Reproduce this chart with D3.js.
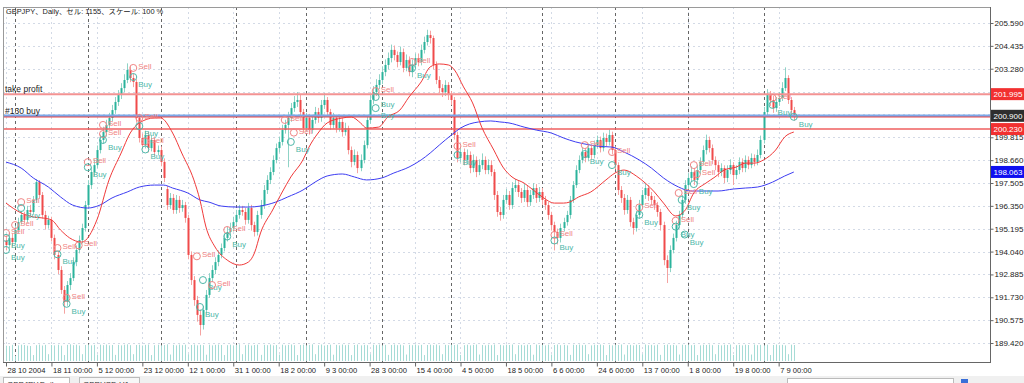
<!DOCTYPE html>
<html>
<head>
<meta charset="utf-8">
<script src="https://cdn.jsdelivr.net/npm/d3@7"></script>
<style>
  body { margin: 0; background: #fff; }
  svg { display: block; }
  text { font-family: "Liberation Sans", Arial, "Noto Sans CJK JP", sans-serif; }
</style>
</head>
<body>
<svg id="chart" width="1024" height="383"></svg>
<script>
// daily GBPJPY bars (bar 0 = 28 10 2004)
const opens = [
  194.60,194.37,194.73,194.52,195.13,195.53,195.89,195.64,196.14,196.04,
  196.65,197.55,196.90,195.89,195.38,195.64,194.73,193.87,193.11,192.10,
  191.49,192.35,192.70,193.51,194.12,194.62,195.23,196.39,197.40,198.06,
  198.41,199.17,199.68,200.08,200.44,200.79,201.19,201.60,201.95,202.30,
  202.71,203.22,202.81,202.61,200.79,199.78,199.42,199.93,199.27,199.68,
  199.07,199.17,198.57,197.20,196.39,196.75,196.14,196.65,196.24,196.39,
  195.74,193.87,192.60,191.59,190.84,190.33,191.09,191.85,192.70,193.11,
  193.51,193.87,194.22,194.73,195.03,195.23,195.53,195.89,196.14,196.04,
  195.64,196.24,195.38,195.03,195.89,196.39,197.15,197.66,198.06,198.67,
  199.27,199.58,200.18,200.44,200.79,201.29,201.60,201.70,201.09,200.28,
  200.79,200.18,200.69,201.09,200.79,201.45,201.70,201.09,200.44,200.79,
  200.28,200.59,200.08,200.28,199.17,198.57,198.92,198.26,198.67,199.42,
  200.69,201.70,202.10,202.46,202.71,203.11,203.47,203.82,204.23,203.97,
  203.62,204.12,203.32,203.72,203.11,203.47,203.82,203.62,204.23,204.63,
  204.98,204.83,203.47,202.71,202.30,202.10,202.46,201.95,201.70,199.93,
  198.77,199.07,198.67,198.92,198.26,198.67,198.06,198.41,198.67,198.16,
  198.41,198.06,196.90,196.04,195.89,196.65,196.90,196.39,197.25,197.40,
  197.05,196.75,197.15,196.54,196.90,197.25,196.75,197.05,196.65,196.39,
  195.89,195.38,195.03,194.73,195.23,195.53,195.89,196.65,197.40,198.16,
  198.67,199.07,198.77,199.27,198.92,199.42,199.68,199.27,199.78,199.58,
  199.93,199.17,198.41,197.15,196.75,196.14,196.65,195.53,195.23,195.89,
  196.39,196.90,197.25,196.85,196.65,196.39,196.04,195.38,193.61,193.21,
  194.12,194.73,195.38,195.89,196.65,197.40,197.76,198.06,197.66,198.16,
  198.57,199.17,199.68,199.27,198.67,198.41,198.06,198.26,197.76,198.16,
  198.41,197.91,198.16,198.57,198.26,198.67,198.41,198.77,198.57,198.92,
  199.68,201.09,201.95,201.70,201.29,201.60,201.80,202.30,202.81,201.70,
  201.19
];
const highs = [
  194.85,195.00,194.95,195.35,195.75,196.10,196.05,196.35,196.40,196.85,
  197.70,197.65,197.05,196.10,195.85,195.80,194.90,194.05,193.30,192.30,
  192.55,192.95,193.75,194.35,194.85,195.45,196.60,197.65,198.30,198.70,
  199.40,199.95,200.35,200.70,201.05,201.45,201.85,202.20,202.55,203.00,
  203.55,203.40,203.05,202.75,201.00,200.00,200.15,200.10,199.90,199.85,
  199.40,199.35,198.75,197.35,197.00,196.95,196.90,196.85,196.65,196.55,
  195.90,194.05,192.80,191.80,191.10,191.30,192.10,192.95,193.35,193.75,
  194.10,194.45,194.95,195.30,195.50,195.80,196.15,196.40,196.35,196.25,
  196.50,196.40,195.55,196.10,196.65,197.40,197.90,198.30,198.90,199.50,
  199.85,200.45,200.70,201.10,201.55,201.90,202.10,201.95,201.25,201.05,
  201.00,200.95,201.35,201.30,201.70,202.05,201.85,201.25,201.05,200.95,
  200.85,200.80,200.55,200.40,199.35,199.20,199.10,198.95,199.65,200.90,
  201.95,202.40,202.75,203.00,203.40,203.75,204.10,204.50,204.45,204.15,
  204.40,204.30,204.00,203.90,203.75,204.05,204.05,204.50,204.90,205.25,
  205.20,204.95,203.65,202.90,202.50,202.70,202.60,202.15,201.85,200.10,
  199.35,199.25,199.20,199.10,198.95,198.85,198.70,199.00,198.85,198.70,
  198.65,198.20,197.10,196.30,196.90,197.20,197.10,197.55,197.70,197.60,
  197.25,197.45,197.35,197.15,197.50,197.45,197.30,197.25,196.85,196.55,
  196.05,195.55,195.20,195.45,195.75,196.10,196.85,197.60,198.40,198.90,
  199.30,199.25,199.50,199.45,199.65,199.90,199.85,200.05,200.00,200.20,
  200.10,199.35,198.55,197.35,196.95,196.90,196.80,195.75,196.10,196.65,
  197.15,197.50,197.40,197.05,196.85,196.55,196.20,195.55,193.85,194.35,
  194.95,195.60,196.10,196.90,197.65,198.00,198.35,198.25,198.40,198.80,
  199.40,199.95,199.85,199.45,198.85,198.60,198.50,198.40,198.40,198.70,
  198.55,198.40,198.80,198.75,198.90,198.85,199.00,198.95,199.20,199.90,
  201.35,202.25,202.15,201.90,201.85,202.10,202.60,203.35,202.95,201.85,
  201.35
];
const lows = [
  194.10,194.20,194.30,194.40,194.95,195.40,195.45,195.50,195.85,195.90,
  196.50,196.70,195.70,195.15,195.20,194.55,193.65,192.90,191.90,190.90,
  191.30,192.10,192.55,193.30,193.95,194.45,195.05,196.20,197.20,197.85,
  198.25,199.00,199.50,199.85,200.25,200.60,201.00,201.40,201.75,202.10,
  202.55,202.60,202.35,200.55,199.55,199.20,199.25,199.05,199.10,198.85,
  198.90,198.35,197.55,196.15,196.20,195.95,195.95,196.00,196.05,195.50,
  193.65,192.35,191.30,190.50,189.80,190.10,190.90,191.70,192.50,192.90,
  193.30,193.70,194.05,194.55,194.85,195.05,195.35,195.70,195.85,195.40,
  195.45,195.10,194.80,194.85,195.70,196.20,196.95,197.45,197.90,198.50,
  199.05,199.40,200.00,198.30,200.60,201.10,201.35,200.90,200.05,200.10,
  199.95,200.00,200.50,200.55,200.60,201.25,200.85,200.20,200.25,200.05,
  200.10,199.85,199.90,198.95,198.30,198.40,198.00,198.10,198.50,199.25,
  200.50,201.50,201.90,202.25,202.50,202.90,203.25,203.60,203.70,203.35,
  203.45,203.10,203.15,202.90,202.85,203.30,203.40,203.45,204.05,204.45,
  204.55,203.25,202.50,202.05,201.85,201.90,201.70,201.45,199.70,198.55,
  198.55,198.40,198.45,198.00,198.05,197.80,197.90,198.20,197.95,197.95,
  197.85,196.65,195.80,195.60,195.70,196.45,196.15,196.20,197.05,196.80,
  196.50,196.55,196.30,196.35,196.70,196.50,196.55,196.40,196.15,195.65,
  195.10,194.10,194.40,194.50,195.05,195.35,195.70,196.50,197.25,198.00,
  198.50,198.55,198.60,198.70,198.75,199.25,199.05,199.10,199.35,199.40,
  198.95,198.20,196.90,196.50,195.90,195.95,195.30,194.90,195.05,195.70,
  196.20,196.70,196.60,196.40,196.15,195.80,195.10,193.35,192.45,193.00,
  193.95,194.55,195.20,195.70,196.45,197.20,197.55,197.40,197.45,197.95,
  198.40,198.95,199.05,198.45,198.15,197.80,197.85,197.50,197.55,197.95,
  197.40,197.70,197.95,198.05,198.05,198.20,198.25,198.35,198.40,198.75,
  199.50,200.90,201.40,201.05,201.10,201.40,201.65,202.15,201.50,200.95,
  200.65
];
const closes = [
  194.37,194.73,194.52,195.13,195.53,195.89,195.64,196.14,196.04,196.65,
  197.55,196.90,195.89,195.38,195.64,194.73,193.87,193.11,192.10,191.49,
  192.35,192.70,193.51,194.12,194.62,195.23,196.39,197.40,198.06,198.41,
  199.17,199.68,200.08,200.44,200.79,201.19,201.60,201.95,202.30,202.71,
  203.22,202.81,202.61,200.79,199.78,199.42,199.93,199.27,199.68,199.07,
  199.17,198.57,197.76,196.39,196.75,196.14,196.65,196.24,196.39,195.74,
  193.87,192.60,191.59,190.84,190.33,191.09,191.85,192.70,193.11,193.51,
  193.87,194.22,194.73,195.03,195.23,195.53,195.89,196.14,196.04,195.64,
  196.24,195.38,195.03,195.89,196.39,197.15,197.66,198.06,198.67,199.27,
  199.58,200.18,200.44,200.79,201.29,201.60,201.70,201.09,200.28,200.79,
  200.18,200.69,201.09,200.79,201.45,201.70,201.09,200.44,200.79,200.28,
  200.59,200.08,200.28,199.17,198.57,198.92,198.26,198.67,199.42,200.69,
  201.70,202.10,202.46,202.71,203.11,203.47,203.82,204.23,203.97,203.62,
  204.12,203.32,203.72,203.11,203.47,203.82,203.62,204.23,204.63,204.98,
  204.83,203.47,202.71,202.30,202.10,202.46,201.95,201.70,199.93,198.77,
  199.07,198.67,198.92,198.26,198.67,198.06,198.41,198.67,198.16,198.41,
  198.06,196.90,196.04,195.89,196.65,196.90,196.39,197.25,197.40,197.05,
  196.75,197.15,196.54,196.90,197.25,196.75,197.05,196.65,196.39,195.89,
  195.38,195.03,194.73,195.23,195.53,195.89,196.65,197.40,198.16,198.67,
  199.07,198.77,199.27,198.92,199.42,199.68,199.27,199.78,199.58,199.93,
  199.17,198.41,197.15,196.75,196.14,196.65,195.53,195.23,195.89,196.39,
  196.90,197.25,196.85,196.65,196.39,196.04,195.38,193.61,193.21,194.12,
  194.73,195.38,195.89,196.65,197.40,197.76,198.06,197.66,198.16,198.57,
  199.17,199.68,199.27,198.67,198.41,198.06,198.26,197.76,198.16,198.41,
  197.91,198.16,198.57,198.26,198.67,198.41,198.77,198.57,198.92,199.68,
  201.09,201.95,201.70,201.29,201.60,201.80,202.30,202.81,201.70,201.19,
  200.90
];
const volumes = [
  90,88,95,30,92,96,94,90,88,35,93,97,91,95,40,
  94,92,96,90,35,95,98,93,96,91,40,94,97,92,95,
  38,96,93,97,92,94,36,95,92,96,98,93,40,94,96,
  91,95,97,35,93,96,92,94,98,38,95,92,97,93,96,
  40,94,97,92,95,93,37,96,92,95,97,94,35,93,96,
  92,95,98,40,93,97,91,94,96,36,95,93,97,92,94,
  38,96,92,95,97,93,35,94,96,92,95,98,40,93,97,
  91,94,96,37,95,92,97,93,96,35,94,97,92,95,93,
  40,96,93,97,92,95,36,94,97,93,96,92,38,95,93,
  97,92,95,35,94,96,93,97,92,40,95,93,96,94,97,
  36,93,96,92,95,97,38,94,92,96,93,97,35,95,92,
  96,94,97,40,93,95,92,96,94,37,97,93,95,92,96,
  38,94,97,93,95,92,36,96,94,97,93,95,40,92,96,
  94,97,93,35,95,92,96,94,97,38,93,95,92,96,94,
  40,97,93,95,92,96,36,94,97,93,95,92,38,96,94,
  97,93,95,35,92,96,94,97,93,40,95,92,96,94,97,
  36,93,95,92,96,94,38,97,93,95,92,96,35,94,97,
  93,95,92,40,96,94
];

// moving averages: [bar, price]
const fastMA = [
  [0,196.49],[5,195.99],[9,195.79],[12,195.74],[15,195.64],[18,195.13],[21,194.73],[25,194.52],
  [30,195.64],[34,197.66],[38,199.02],[41,200.03],[44,200.54],[49,200.79],[51,200.79],[55,200.03],
  [58,199.02],[62,197.66],[64,196.65],[66,195.28],[69,194.27],[73,193.61],[77,193.36],[80,193.51],
  [82,193.97],[84,194.98],[88,196.14],[91,197.00],[94,197.81],[98,198.67],[100,199.32],[103,200.03],
  [106,200.54],[111,200.79],[114,200.84],[117,200.54],[119,200.28],[123,200.33],[126,200.84],
  [130,201.19],[133,201.85],[137,202.61],[140,203.37],[143,203.52],[146,203.47],[148,203.22],
  [151,202.36],[154,201.55],[157,200.33],[161,199.17],[164,198.31],[167,197.81],[171,197.50],
  [174,197.15],[177,196.80],[181,196.49],[184,196.49],[186,196.54],[189,196.80],[193,197.05],
  [198,197.66],[201,198.01],[204,198.16],[208,197.86],[211,197.50],[214,197.05],[217,196.49],
  [221,195.84],[224,196.10],[227,197.00],[231,197.50],[234,197.81],[237,198.16],[241,198.31],
  [244,198.51],[247,198.51],[250,198.67],[254,199.17],[257,199.83],[260,200.08]
];
const slowMA = [
  [0,198.56],[5,198.26],[9,197.76],[14,197.30],[18,196.80],[22,196.39],[27,196.24],[31,196.39],
  [35,196.75],[40,197.05],[44,197.30],[49,197.40],[52,197.40],[55,197.25],[60,197.00],[64,196.65],
  [67,196.54],[71,196.34],[76,196.29],[80,196.29],[84,196.34],[89,196.54],[93,196.80],[98,197.15],
  [102,197.55],[106,197.86],[111,197.96],[115,197.81],[119,197.66],[124,197.76],[128,198.01],
  [133,198.31],[137,198.67],[140,199.02],[143,199.42],[147,199.93],[150,200.28],[153,200.49],
  [156,200.59],[160,200.64],[163,200.59],[166,200.54],[171,200.33],[175,200.18],[180,200.03],
  [184,199.78],[188,199.58],[193,199.42],[195,199.37],[200,199.32],[204,199.07],[209,198.67],
  [213,198.26],[217,197.76],[222,197.30],[226,197.10],[231,197.10],[235,197.10],[240,197.20],
  [244,197.25],[248,197.30],[253,197.55],[257,197.86],[260,198.06]
];

// trade arrows: [bar, price, side]
const trades = [
  [5,196.54,'Sell'],[5,196.24,'Buy'],[3,195.38,'Sell'],[0,194.98,'Sell'],[0,194.73,'Buy'],[0,194.12,'Buy'],
  [17,194.22,'Sell'],[17,193.90,'Buy'],[24,194.35,'Sell'],[20,191.70,'Sell'],[20,191.40,'Buy'],
  [27,198.56,'Sell'],[27,198.30,'Buy'],[32,200.44,'Sell'],[32,199.98,'Sell'],[32,199.68,'Buy'],
  [42,203.32,'Sell'],[42,202.86,'Buy'],[44,200.79,'Sell'],[44,200.38,'Buy'],[46,199.60,'Sell'],[46,199.20,'Buy'],
  [63,193.80,'Sell'],[65,192.60,'Buy'],[68,192.35,'Sell'],[64,191.24,'Buy'],
  [73,195.13,'Sell'],[73,194.80,'Buy'],[92,200.69,'Sell'],[95,200.05,'Sell'],[94,199.58,'Buy'],
  [122,202.15,'Sell'],[122,201.85,'Buy'],[122,201.29,'Buy'],[134,203.62,'Sell'],[134,203.30,'Buy'],
  [149,199.37,'Sell'],[149,198.92,'Buy'],[181,194.88,'Sell'],[181,194.60,'Buy'],
  [191,199.42,'Sell'],[191,198.97,'Buy'],[200,199.07,'Sell'],[200,198.41,'Buy'],
  [209,196.27,'Sell'],[209,195.90,'Buy'],[222,197.00,'Sell'],[223,196.65,'Buy'],
  [221,195.60,'Sell'],[221,195.30,'Buy'],[224,194.90,'Buy'],
  [227,198.41,'Sell'],[228,197.95,'Sell'],[227,197.45,'Buy'],[253,201.80,'Sell'],[253,201.45,'Buy'],
  [260,200.85,'Buy']
];

const tickBars = [0,15,30,45,60,75,90,105,120,135,150,165,180,195,210,225,240,255];
const tickLabels = ['28 10 2004','18 11 00:00','5 12 00:00','23 12 00:00','12 1 00:00','31 1 00:00',
  '18 2 00:00','9 3 00:00','28 3 00:00','15 4 00:00','4 5 00:00','18 5 00:00','6 6 00:00',
  '24 6 00:00','13 7 00:00','1 8 00:00','19 8 00:00','7 9 00:00'];
const monthBars = [3,27,51,76,99,124,147,177,201,225,250];
const priceTicks = [205.590,204.435,203.280,202.125,200.970,199.815,198.660,197.505,
  196.350,195.195,194.040,192.885,191.730,190.575,189.420];

const takeProfit = 201.995;
const orderPrice = 200.840;
const bidPrice = 200.900;
const stopLoss = 200.230;
const slowLast = 198.063;

// ---- layout
const svg = d3.select('#chart');
const frame = { left: 3, top: 7, right: 990, bottom: 362 };

const x = d3.scaleLinear().domain([0, 260]).range([6, 793.8]);
const y = d3.scaleLinear().domain([189.42, 205.59]).range([343, 23]);
const yVol = d3.scaleLinear().domain([0, 100]).range([361, 344]);

svg.append('defs').append('clipPath').attr('id', 'plotclip')
  .append('rect')
  .attr('x', frame.left).attr('y', frame.top)
  .attr('width', frame.right - frame.left).attr('height', frame.bottom - frame.top);

const plot = svg.append('g').attr('clip-path', 'url(#plotclip)');

// grid
plot.selectAll('line.hgrid').data(priceTicks).join('line')
  .attr('class', 'hgrid')
  .attr('x1', frame.left).attr('x2', frame.right)
  .attr('y1', d => Math.round(y(d)) + 0.5).attr('y2', d => Math.round(y(d)) + 0.5)
  .attr('stroke', '#d3dae6').attr('stroke-dasharray', '2,3');

plot.selectAll('line.vgrid').data(tickBars).join('line')
  .attr('class', 'vgrid')
  .attr('x1', d => Math.round(x(d)) + 0.5).attr('x2', d => Math.round(x(d)) + 0.5)
  .attr('y1', frame.top).attr('y2', frame.bottom)
  .attr('stroke', '#d3dae6').attr('stroke-dasharray', '2,3');

plot.selectAll('line.sep').data(monthBars).join('line')
  .attr('class', 'sep')
  .attr('x1', d => Math.round(x(d)) + 0.5).attr('x2', d => Math.round(x(d)) + 0.5)
  .attr('y1', frame.top).attr('y2', frame.bottom)
  .attr('stroke', '#666').attr('stroke-dasharray', '3,3');

// volumes
plot.selectAll('line.vol').data(volumes).join('line')
  .attr('class', 'vol')
  .attr('x1', (d, i) => Math.round(x(i)) + 0.5).attr('x2', (d, i) => Math.round(x(i)) + 0.5)
  .attr('y1', yVol(0)).attr('y2', d => yVol(d))
  .attr('stroke', '#a6dcd6');

// candles
const bars = d3.range(closes.length);
const isUp = i => closes[i] >= opens[i];

plot.selectAll('line.wick').data(bars).join('line')
  .attr('class', 'wick')
  .attr('x1', i => Math.round(x(i)) + 0.5).attr('x2', i => Math.round(x(i)) + 0.5)
  .attr('y1', i => y(highs[i])).attr('y2', i => y(lows[i]))
  .attr('stroke', i => isUp(i) ? '#8fd3c6' : '#f5a3a1');

plot.selectAll('rect.body').data(bars).join('rect')
  .attr('class', 'body')
  .attr('x', i => Math.round(x(i)) - 0.5)
  .attr('width', 2)
  .attr('y', i => y(Math.max(opens[i], closes[i])))
  .attr('height', i => Math.max(1, Math.abs(y(opens[i]) - y(closes[i]))))
  .attr('fill', i => isUp(i) ? '#2bb39c' : '#f04b4b');

// order levels
const level = (price, color, width) => plot.append('line')
  .attr('x1', frame.left).attr('x2', frame.right)
  .attr('y1', y(price)).attr('y2', y(price))
  .attr('stroke', color).attr('stroke-width', width);

level(takeProfit, '#f39393', 2);
level(bidPrice, '#7ba8ea', 2.5);
level(orderPrice, '#ea4545', 1.2);
level(stopLoss, '#ef5f5f', 1.5);

svg.append('text').attr('x', 5).attr('y', 92).attr('font-size', 8.5).attr('fill', '#222').text('take profit');
svg.append('text').attr('x', 5).attr('y', 114).attr('font-size', 8.5).attr('fill', '#222').text('#130 buy');

// moving averages
const maLine = d3.line().x(d => x(d[0])).y(d => y(d[1])).curve(d3.curveMonotoneX);
plot.append('path').datum(slowMA).attr('d', maLine)
  .attr('fill', 'none').attr('stroke', '#3d3df2').attr('stroke-width', 1);
plot.append('path').datum(fastMA).attr('d', maLine)
  .attr('fill', 'none').attr('stroke', '#f03a3a').attr('stroke-width', 1);

// trade markers
const sideColor = { Sell: '#f08484', Buy: '#4db7a8' };
const mk = plot.selectAll('g.trade').data(trades).join('g')
  .attr('class', 'trade')
  .attr('transform', d => `translate(${x(d[0])},${y(d[1])})`);
mk.append('circle').attr('r', 3.5)
  .attr('fill', 'none').attr('stroke', d => sideColor[d[2]]).attr('stroke-width', 1);
mk.append('text')
  .attr('x', 5).attr('y', d => d[2] === 'Buy' ? 10 : 1)
  .attr('font-size', 8).attr('fill', d => sideColor[d[2]])
  .text(d => d[2]);

// frame
svg.append('rect')
  .attr('x', frame.left + 0.5).attr('y', frame.top + 0.5)
  .attr('width', frame.right - frame.left).attr('height', frame.bottom - frame.top)
  .attr('fill', 'none').attr('stroke', '#9a9a9a');
svg.append('line')
  .attr('x1', frame.right + 0.5).attr('x2', frame.right + 0.5)
  .attr('y1', frame.top).attr('y2', frame.bottom + 1)
  .attr('stroke', '#666');
svg.append('line')
  .attr('x1', frame.left).attr('x2', frame.right + 1)
  .attr('y1', frame.bottom + 0.5).attr('y2', frame.bottom + 0.5)
  .attr('stroke', '#666');

// axes
const yAxis = svg.append('g')
  .attr('transform', `translate(${frame.right + 0.5},0)`)
  .call(d3.axisRight(y).tickValues(priceTicks).tickFormat(d3.format('.3f')).tickSize(3).tickPadding(1));
yAxis.select('.domain').remove();
yAxis.selectAll('text').attr('font-size', 8).attr('fill', '#222').attr('font-family', null);
yAxis.selectAll('line').attr('stroke', '#666');

const xAxis = svg.append('g')
  .attr('transform', `translate(0,${frame.bottom + 0.5})`)
  .call(d3.axisBottom(x).tickValues(tickBars).tickFormat((d, i) => tickLabels[i]).tickSize(4).tickPadding(1));
xAxis.select('.domain').remove();
xAxis.selectAll('text').attr('font-size', 7.6).attr('fill', '#222').attr('font-family', null)
  .attr('text-anchor', 'start').attr('x', 1);
xAxis.selectAll('line').attr('stroke', '#666');

// price boxes on the right scale
const tag = (price, bg) => {
  const g = svg.append('g').attr('transform', `translate(${frame.right + 1},${y(price)})`);
  g.append('rect').attr('x', 0).attr('y', -6).attr('width', 34).attr('height', 12).attr('fill', bg);
  g.append('text').attr('x', 2.5).attr('y', 3).attr('font-size', 8).attr('fill', '#fff')
    .text(d3.format('.3f')(price));
};
tag(takeProfit, '#f23030');
tag(bidPrice, '#2e2e2e');
tag(stopLoss, '#f23030');
tag(slowLast, '#1010f0');

// title
svg.append('text').attr('x', 6).attr('y', 14).attr('font-size', 7.4).attr('fill', '#222')
  .text('GBPJPY、Daily、セル: 1155、スケール: 100 %');

// bottom tab strip
svg.append('rect').attr('x', 0).attr('y', 376).attr('width', 1024).attr('height', 7).attr('fill', '#f0f0f0');
svg.append('rect').attr('x', 3.5).attr('y', 377.5).attr('width', 66).attr('height', 10)
  .attr('fill', '#fff').attr('stroke', '#bbb');
svg.append('text').attr('x', 7).attr('y', 387).attr('font-size', 8).attr('fill', '#333').text('GBPJPY,Daily');
svg.append('rect').attr('x', 79.5).attr('y', 377.5).attr('width', 60).attr('height', 10)
  .attr('fill', '#f7f7f7').attr('stroke', '#bbb');
svg.append('text').attr('x', 83).attr('y', 387).attr('font-size', 8).attr('fill', '#333').text('GBPUSD,H1');
svg.append('rect').attr('x', 787.5).attr('y', 378.5).attr('width', 166).attr('height', 10)
  .attr('fill', '#fff').attr('stroke', '#bbb');
svg.append('rect').attr('x', 961).attr('y', 379).attr('width', 7).attr('height', 6).attr('fill', '#3a6fd8');
</script>
</body>
</html>
